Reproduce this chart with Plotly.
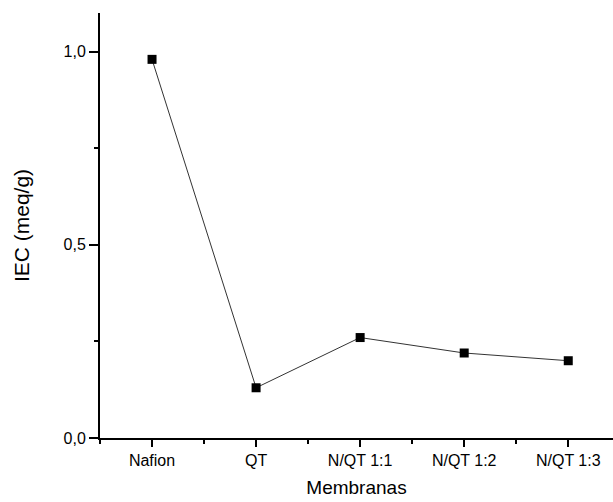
import plotly.graph_objects as go

categories = ["Nafion", "QT", "N/QT 1:1", "N/QT 1:2", "N/QT 1:3"]
iec_values = [0.98, 0.13, 0.26, 0.22, 0.20]
y_tick_values = [0.0, 0.5, 1.0]

x_pos = list(range(len(categories)))

fig = go.Figure()
fig.add_trace(go.Scatter(
    x=x_pos, y=iec_values, mode="lines+markers",
    line=dict(color="#333333", width=1),
    marker=dict(symbol="square", size=9, color="black"),
    showlegend=False,
))

font_family = "Liberation Sans, Arial, sans-serif"

fig.update_layout(
    width=613, height=502,
    margin=dict(l=100, r=0, t=13, b=64),
    paper_bgcolor="white", plot_bgcolor="white",
    separators=",.",
    font=dict(family=font_family, color="black"),
    xaxis=dict(
        range=[-0.5, 4.43],
        tickmode="array", tickvals=x_pos, ticktext=categories,
        showline=True, linecolor="black", linewidth=2,
        ticks="outside", ticklen=7, tickwidth=1.5, tickcolor="black",
        minor=dict(tickmode="linear", tick0=0.5, dtick=1, ticks="outside",
                   ticklen=4, tickwidth=1.5, tickcolor="black"),
        showgrid=False, zeroline=False,
        tickfont=dict(size=16, family=font_family),
        title=dict(text="Membranas", font=dict(size=19, family=font_family), standoff=12),
        automargin=False,
    ),
    yaxis=dict(
        range=[0, 1.1],
        tickmode="array", tickvals=y_tick_values, tickformat=".1f",
        showline=True, linecolor="black", linewidth=2,
        ticks="outside", ticklen=9, tickwidth=1.5, tickcolor="black",
        minor=dict(tickmode="linear", tick0=0.25, dtick=0.5, ticks="outside",
                   ticklen=4, tickwidth=1.5, tickcolor="black"),
        showgrid=False, zeroline=False,
        tickfont=dict(size=16, family=font_family),
        title=dict(text="IEC (meq/g)", font=dict(size=21, family=font_family), standoff=28),
        automargin=False,
    ),
)

fig.write_html("out.html")
